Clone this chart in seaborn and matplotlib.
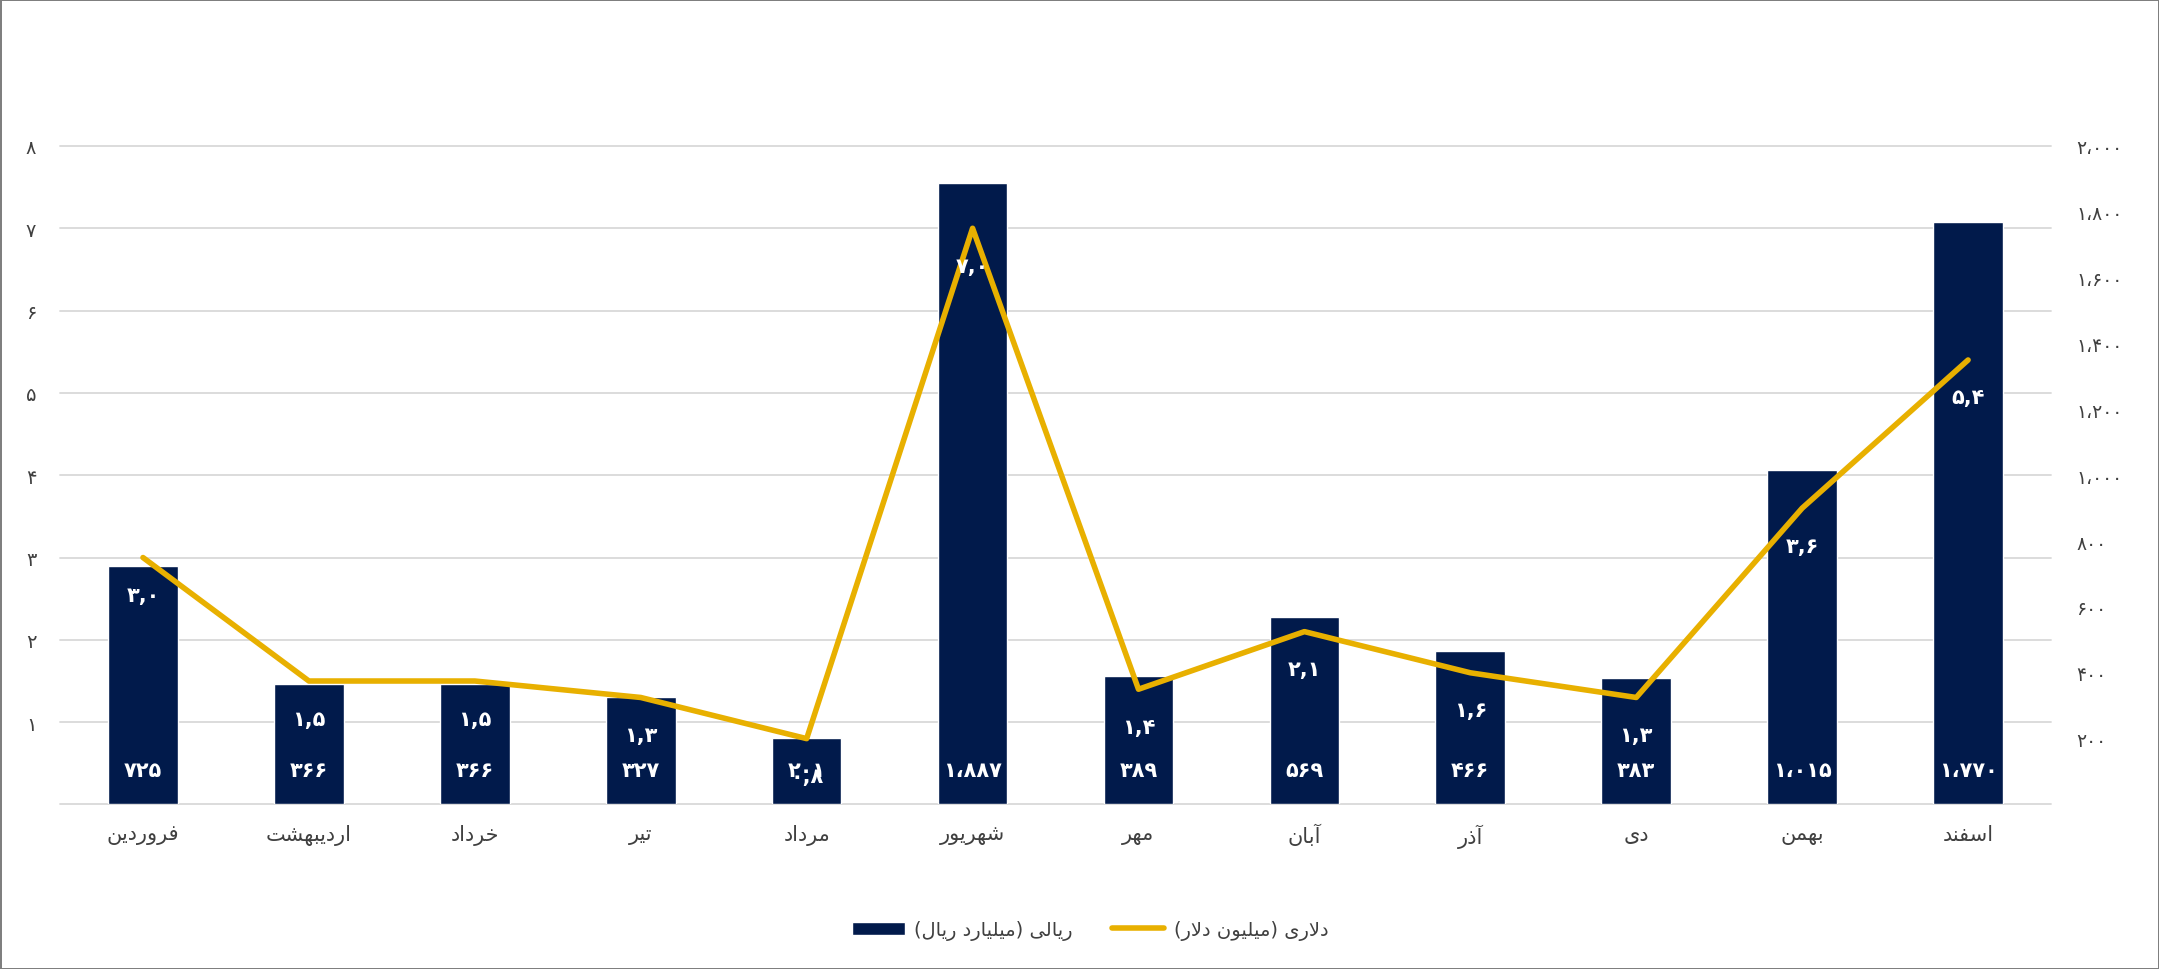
"""
Monthly rial / dollar values chart (Persian labels).
"""

import numpy as np
import matplotlib
matplotlib.use("Agg")
import matplotlib.pyplot as plt
from matplotlib.ticker import FixedLocator
import seaborn as sns

NAVY = "#011a4b"
GOLD = "#e8b000"
TEXT = "#404040"

# ── data ─────────────────────────────────────────────────────────────────────
MONTHS = ["فروردین", "اردیبهشت", "خرداد", "تیر", "مرداد", "شهریور",
          "مهر", "آبان", "آذر", "دی", "بهمن", "اسفند"]
RIAL   = [725, 366, 366, 327, 201, 1887, 389, 569, 466, 383, 1015, 1770]
DOLLAR = [3.0, 1.5, 1.5, 1.3, 0.8, 7.0, 1.4, 2.1, 1.6, 1.3, 3.6, 5.4]
LEFT_TICKS  = [1, 2, 3, 4, 5, 6, 7, 8]
RIGHT_TICKS = [200, 400, 600, 800, 1000, 1200, 1400, 1600, 1800, 2000]
LABEL_RIAL   = "ریالی (میلیارد ریال)"
LABEL_DOLLAR = "دلاری (میلیون دلار)"


# ── minimal Persian shaping (matplotlib has no bidi / shaping) ───────────────
# isolated, final, initial, medial
FORMS = {
    "ا": ("\uFE8D", "\uFE8E", None, None),
    "آ": ("\uFE81", "\uFE82", None, None),
    "ب": ("\uFE8F", "\uFE90", "\uFE91", "\uFE92"),
    "ت": ("\uFE95", "\uFE96", "\uFE97", "\uFE98"),
    "خ": ("\uFEA5", "\uFEA6", "\uFEA7", "\uFEA8"),
    "د": ("\uFEA9", "\uFEAA", None, None),
    "ذ": ("\uFEAB", "\uFEAC", None, None),
    "ر": ("\uFEAD", "\uFEAE", None, None),
    "س": ("\uFEB1", "\uFEB2", "\uFEB3", "\uFEB4"),
    "ش": ("\uFEB5", "\uFEB6", "\uFEB7", "\uFEB8"),
    "ف": ("\uFED1", "\uFED2", "\uFED3", "\uFED4"),
    "ل": ("\uFEDD", "\uFEDE", "\uFEDF", "\uFEE0"),
    "م": ("\uFEE1", "\uFEE2", "\uFEE3", "\uFEE4"),
    "ن": ("\uFEE5", "\uFEE6", "\uFEE7", "\uFEE8"),
    "ه": ("\uFEE9", "\uFEEA", "\uFEEB", "\uFEEC"),
    "و": ("\uFEED", "\uFEEE", None, None),
    "ی": ("\uFEEF", "\uFEF0", "\uFEF3", "\uFEF4"),
}
LAMALEF = {"ا": ("\uFEFB", "\uFEFC"), "آ": ("\uFEF5", "\uFEF6")}


def fa(text: str) -> str:
    chars = list(text)
    out = []
    i = 0
    while i < len(chars):
        c = chars[i]
        if c not in FORMS:
            out.append(c)
            i += 1
            continue
        prev = chars[i - 1] if i > 0 else None
        prev_joins = prev in FORMS and FORMS[prev][2] is not None
        nxt = chars[i + 1] if i + 1 < len(chars) else None
        if c == "ل" and nxt in LAMALEF:
            out.append(LAMALEF[nxt][1 if prev_joins else 0])
            i += 2
            continue
        next_joins = nxt in FORMS and FORMS[c][2] is not None
        iso, fin, ini, med = FORMS[c]
        if prev_joins and next_joins:
            out.append(med)
        elif prev_joins:
            out.append(fin)
        elif next_joins:
            out.append(ini)
        else:
            out.append(iso)
        i += 1
    vis = "".join(reversed(out))
    return vis.translate(str.maketrans("()", ")("))


DIGITS = str.maketrans("0123456789", "۰۱۲۳۴۵۶۷۸۹")


def fa_int(v) -> str:
    return f"{v:,}".replace(",", "،").translate(DIGITS)


def fa_dec(v) -> str:
    return f"{v:.1f}".replace(".", ",").translate(DIGITS)


# ── figure ───────────────────────────────────────────────────────────────────
sns.set_theme(style="white")
plt.rcParams["font.family"] = ["DejaVu Sans"]

fig = plt.figure(figsize=(21.59, 9.70), dpi=100)
fig.patch.set_edgecolor("#7f7f7f")
fig.patch.set_linewidth(2)
ax_bar = fig.add_axes([0.0278, 0.1696, 0.9222, 0.6789])
ax_line = ax_bar.twinx()

months = [fa(m) for m in MONTHS]
x = np.arange(len(months))

sns.barplot(x=months, y=RIAL, ax=ax_bar, color=NAVY, saturation=1,
            width=0.42, label=fa(LABEL_RIAL), zorder=2)
sns.lineplot(x=x, y=DOLLAR, ax=ax_line, color=GOLD, linewidth=4,
             label=fa(LABEL_DOLLAR), solid_capstyle="round", solid_joinstyle="round")

ax_bar.set_xlim(-0.5, len(months) - 0.5)
ax_bar.set_ylim(0, 2000)
ax_line.set_ylim(0, 8)

# right axis (rial) ticks; the grid follows the left axis steps (8 units = 2000)
scale = 2000 / LEFT_TICKS[-1]
ax_bar.yaxis.tick_right()
ax_bar.yaxis.set_major_locator(FixedLocator(RIGHT_TICKS))
ax_bar.set_yticklabels([fa_int(v) for v in RIGHT_TICKS])
ax_bar.yaxis.remove_overlapping_locs = False
ax_bar.yaxis.set_minor_locator(FixedLocator([0] + [v * scale for v in LEFT_TICKS]))
ax_bar.grid(which="minor", axis="y", color="#d9d9d9", linewidth=1.3, zorder=0)
ax_bar.grid(which="major", axis="y", visible=False)
for t in ax_bar.yaxis.get_minor_ticks():
    t.gridline.set_clip_on(False)
ax_bar.set_axisbelow(True)
for lbl in ax_bar.get_yticklabels():
    lbl.set_horizontalalignment("left")
ax_bar.tick_params(axis="y", which="both", length=0, pad=18,
                   labelsize=13.5, labelcolor=TEXT)
ax_bar.tick_params(axis="x", length=0, pad=14, labelsize=15, labelcolor=TEXT)

ax_line.yaxis.tick_left()
ax_line.yaxis.set_major_locator(FixedLocator(LEFT_TICKS))
ax_line.set_yticklabels([str(v).translate(DIGITS) for v in LEFT_TICKS])
ax_line.tick_params(axis="y", length=0, pad=17, labelsize=14, labelcolor=TEXT)
ax_line.grid(False)

for a in (ax_bar, ax_line):
    a.set_xlabel("")
    a.set_ylabel("")
    for s in a.spines.values():
        s.set_visible(False)

# value labels
for i, v in enumerate(RIAL):
    ax_bar.annotate(fa_int(v), xy=(i, 0), xytext=(0, 25), textcoords="offset points",
                    ha="center", va="center", color="white", fontsize=15,
                    fontweight="bold")
for i, v in enumerate(DOLLAR):
    ax_line.annotate(fa_dec(v), xy=(i, v), xytext=(0, -27), textcoords="offset points",
                     ha="center", va="center", color="white", fontsize=15,
                     fontweight="bold")

# legend
h1, l1 = ax_bar.get_legend_handles_labels()
h2, l2 = ax_line.get_legend_handles_labels()
for a in (ax_bar, ax_line):
    if a.get_legend():
        a.get_legend().remove()
fig.legend(h1 + h2, l1 + l2, loc="center", bbox_to_anchor=(0.505, 0.04), ncol=2,
           frameon=False, fontsize=14, handlelength=2.7, handletextpad=0.5,
           columnspacing=2.0, labelcolor=TEXT)

fig.savefig("out.png", dpi=100)
